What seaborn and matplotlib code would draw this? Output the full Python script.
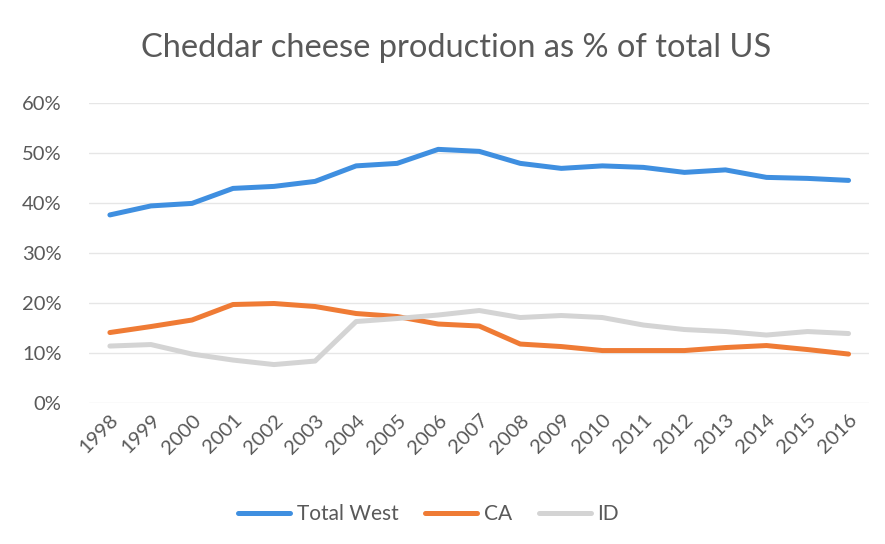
import pandas as pd
import seaborn as sns
import matplotlib.pyplot as plt
from matplotlib.ticker import PercentFormatter

years = [str(y) for y in range(1998, 2017)]
total_west = [37.6, 39.4, 39.9, 42.9, 43.3, 44.3, 47.4, 47.9, 50.7, 50.3,
              47.9, 46.9, 47.4, 47.1, 46.1, 46.6, 45.1, 44.9, 44.5]
ca = [14.1, 15.3, 16.6, 19.7, 19.9, 19.3, 17.9, 17.3, 15.8, 15.4,
      11.8, 11.3, 10.5, 10.5, 10.5, 11.1, 11.5, 10.7, 9.8]
idaho = [11.4, 11.7, 9.8, 8.6, 7.7, 8.4, 16.3, 16.9, 17.6, 18.5,
         17.1, 17.5, 17.1, 15.6, 14.7, 14.3, 13.6, 14.3, 13.9]

df = pd.DataFrame({'Year': years * 3,
                   'Share': total_west + ca + idaho,
                   'Series': ['Total West'] * 19 + ['CA'] * 19 + ['ID'] * 19})

sns.set_theme(style='white')
plt.rcParams['font.family'] = ['Lato', 'DejaVu Sans']
grey = '#595959'

fig = plt.figure(figsize=(8.85, 5.44), dpi=100)
ax = fig.add_axes([0.101, 0.259, 0.881, 0.552])
sns.lineplot(data=df, x='Year', y='Share', hue='Series', sort=False,
             palette={'Total West': '#3f8fe0', 'CA': '#ef7b35', 'ID': '#d4d4d4'},
             linewidth=3.6, ax=ax)

ax.set_xlim(-0.5, len(years) - 0.5)
ax.set_ylim(0, 60)
ax.set_yticks(range(0, 61, 10))
ax.yaxis.set_major_formatter(PercentFormatter(decimals=0))
ax.grid(axis='y', color='#e6e6e6', linewidth=1)
ax.set_axisbelow(True)
for s in ax.spines.values():
    s.set_visible(False)
ax.tick_params(axis='both', colors=grey, labelsize=14.5, length=0)
ax.tick_params(axis='y', pad=20)
ax.tick_params(axis='x', pad=6)
plt.setp(ax.get_xticklabels(), rotation=45, ha='right', rotation_mode='anchor')
ax.set_xlabel('')
ax.set_ylabel('')
fig.suptitle('Cheddar cheese production as % of total US', x=0.515, y=0.94,
             fontsize=23.5, color=grey)
ax.legend(loc='upper center', bbox_to_anchor=(0.435, -0.275), ncol=3, frameon=False,
          fontsize=15, labelcolor=grey, handlelength=2.5, handletextpad=0.3,
          columnspacing=1.3)

fig.savefig('out.png', dpi=100, facecolor='white')
